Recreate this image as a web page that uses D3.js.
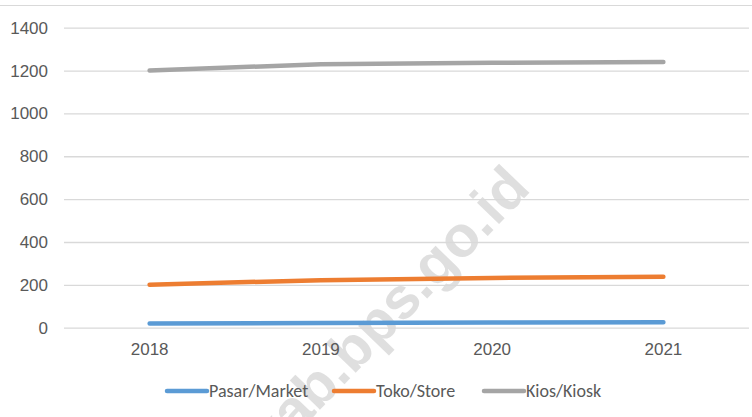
<!DOCTYPE html>
<html>
<head>
<meta charset="utf-8">
<script src="https://cdn.jsdelivr.net/npm/d3@7"></script>
<style>
  html, body { margin: 0; padding: 0; background: #fff; }
  svg { display: block; font-family: Calibri, Carlito, "Open Sans", sans-serif; }
</style>
</head>
<body>
<svg id="chart" width="752" height="417"></svg>
<script>
// data
const years = ['2018', '2019', '2020', '2021'];
const pasar = [20, 22, 24, 26];
const toko = [201, 222, 232, 238];
const kios = [1200, 1230, 1236, 1240];
const yTicks = [0, 200, 400, 600, 800, 1000, 1200, 1400];

const series = [
    { name: 'Pasar/Market', values: pasar, color: '#5B9BD5' },
    { name: 'Toko/Store', values: toko, color: '#ED7D31' },
    { name: 'Kios/Kiosk', values: kios, color: '#A5A5A5' }
];

const width = 752, height = 417;
const plot = { left: 64, right: 749, top: 27.7, bottom: 327.7 };

const svg = d3.select('#chart');

// outer frame top edge
svg.append('line')
    .attr('x1', 0).attr('x2', width)
    .attr('y1', 5.5).attr('y2', 5.5)
    .attr('stroke', '#d9d9d9').attr('stroke-width', 1);

const x = d3.scaleBand().domain(years).range([plot.left, plot.right]);
const y = d3.scaleLinear().domain([0, 1400]).range([plot.bottom, plot.top]);

// watermark (under the grid and lines)
svg.append('text')
    .attr('transform', 'translate(532,190) rotate(-46)')
    .attr('text-anchor', 'end')
    .attr('fill', '#d9d9d9')
    .attr('fill-opacity', 0.85)
    .style('font-family', '"Liberation Sans", Arial, sans-serif')
    .style('font-weight', 'bold')
    .style('font-size', '58px')
    .text('kab.bps.go.id');

// gridlines + y labels
const yAxis = d3.axisLeft(y)
    .tickValues(yTicks)
    .tickFormat(d3.format('d'))
    .tickSize(-(plot.right - plot.left))
    .tickPadding(16);

const gy = svg.append('g')
    .attr('transform', `translate(${plot.left},0)`)
    .call(yAxis);
gy.select('.domain').remove();
gy.selectAll('.tick line')
    .attr('stroke', '#d9d9d9')
    .attr('stroke-width', 1.3);
gy.selectAll('.tick text')
    .attr('fill', '#595959')
    .style('font-size', '17px');

// x labels
const gx = svg.append('g')
    .attr('transform', `translate(0,${plot.bottom})`)
    .call(d3.axisBottom(x).tickSize(0).tickPadding(15));
gx.select('.domain').remove();
gx.selectAll('.tick text')
    .attr('fill', '#595959')
    .style('font-size', '17px');

// lines
const line = d3.line()
    .x((d, i) => x(years[i]) + x.bandwidth() / 2)
    .y(d => y(d));

svg.append('g')
    .selectAll('path')
    .data(series)
    .join('path')
    .attr('d', d => line(d.values))
    .attr('fill', 'none')
    .attr('stroke', d => d.color)
    .attr('stroke-width', 4.5)
    .attr('stroke-linecap', 'round')
    .attr('stroke-linejoin', 'round');

// legend
const legendX = [167, 334, 484];
const legend = svg.append('g')
    .selectAll('g')
    .data(series)
    .join('g')
    .attr('transform', (d, i) => `translate(${legendX[i]},391)`);

legend.append('line')
    .attr('x1', 0).attr('x2', 40)
    .attr('stroke', d => d.color)
    .attr('stroke-width', 4.5)
    .attr('stroke-linecap', 'round');

legend.append('text')
    .attr('x', 42)
    .attr('dy', '0.35em')
    .attr('fill', '#595959')
    .style('font-size', '18px')
    .text(d => d.name);
</script>
</body>
</html>
